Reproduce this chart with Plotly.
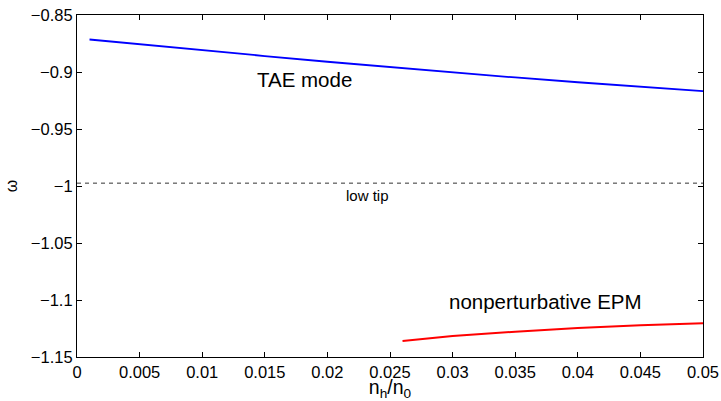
import plotly.graph_objects as go

tae_x = [0.001, 0.005, 0.01, 0.015, 0.02, 0.025, 0.03, 0.035, 0.04, 0.045, 0.05]
tae_w = [-0.8715, -0.8758, -0.8810, -0.8860, -0.8910, -0.8957, -0.9003, -0.9048, -0.9090, -0.9130, -0.9168]

epm_x = [0.026, 0.03, 0.035, 0.04, 0.045, 0.05]
epm_w = [-1.1360, -1.1315, -1.1278, -1.1245, -1.1222, -1.1204]

tip_x = [0.0, 0.05]
tip_w = [-0.9975, -0.9975]

x_ticks = [0, 0.005, 0.01, 0.015, 0.02, 0.025, 0.03, 0.035, 0.04, 0.045, 0.05]
y_ticks = [-1.15, -1.1, -1.05, -1.0, -0.95, -0.9, -0.85]

font = "Liberation Sans, Arial, Helvetica, sans-serif"

fig = go.Figure()
fig.add_trace(go.Scatter(x=tip_x, y=tip_w, mode="lines",
                         line=dict(color="#333333", width=1, dash="4px,4px")))
fig.add_trace(go.Scatter(x=tae_x, y=tae_w, mode="lines", line=dict(color="#0000ff", width=1.8)))
fig.add_trace(go.Scatter(x=epm_x, y=epm_w, mode="lines", line=dict(color="#ff0000", width=2)))

fig.add_annotation(x=0.0182, y=-0.9067, text="TAE mode", showarrow=False,
                   font=dict(size=20.5, color="black", family=font))
fig.add_annotation(x=0.0232, y=-1.0086, text="low tip", showarrow=False,
                   font=dict(size=15, color="black", family=font))
fig.add_annotation(x=0.0374, y=-1.1017, text="nonperturbative EPM", showarrow=False,
                   font=dict(size=20.5, color="black", family=font))

axis_common = dict(showline=True, linecolor="black", linewidth=1.2, mirror="ticks",
                   ticks="inside", ticklen=5, tickcolor="black", showgrid=False,
                   zeroline=False, automargin=False,
                   tickfont=dict(size=16.5, color="black", family=font))

fig.update_xaxes(range=[0, 0.05], tickvals=x_ticks,
                 ticktext=[("%g" % v) for v in x_ticks],
                 title=dict(text="n<sub>h</sub>/n<sub>0</sub>", standoff=1,
                            font=dict(size=19.5, color="black", family=font)),
                 **axis_common)
fig.update_yaxes(range=[-1.15, -0.85], tickvals=y_ticks,
                 ticktext=[("%g" % v).replace("-", "\u2212") for v in y_ticks],
                 title=dict(text="ω", standoff=9,
                            font=dict(size=16, color="black", family=font)),
                 **axis_common)

fig.update_layout(width=721, height=401, showlegend=False,
                  margin=dict(l=77, r=18, t=15, b=44),
                  plot_bgcolor="white", paper_bgcolor="white")

fig.write_html("out.html")
